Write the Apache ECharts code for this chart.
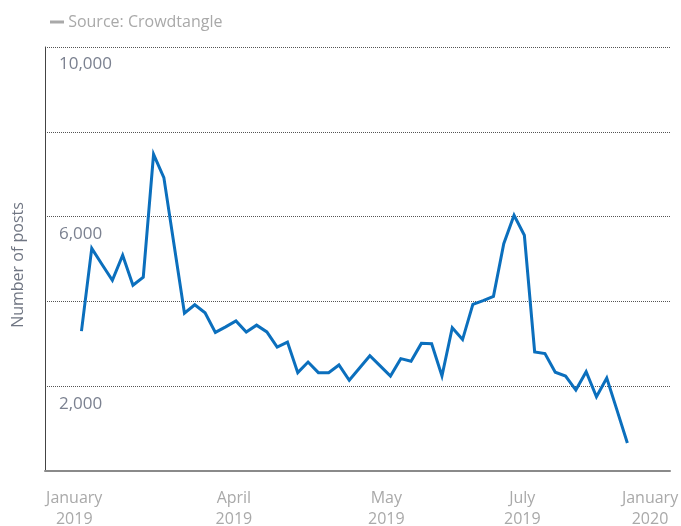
<!DOCTYPE html>
<html>
<head>
<meta charset="utf-8">
<script src="https://cdn.jsdelivr.net/npm/echarts@6/dist/echarts.min.js"></script>
<style>
  html, body { margin: 0; padding: 0; background: #fff; }
  #chart { width: 681px; height: 526px; }
</style>
</head>
<body>
<div id="chart"></div>
<script>
// weekly number of posts, one entry per week
var weeks = [];
for (var w = 0; w < 54; w++) weeks.push(w);

var posts = [3300, 5250, 4870, 4500, 5090, 4380, 4570, 7470, 6920, 5320,
    3720, 3920, 3730, 3270, 3400, 3540, 3280, 3440, 3280, 2920,
    3040, 2320, 2570, 2320, 2320, 2500, 2140, 2430, 2720, 2480,
    2240, 2650, 2590, 3010, 3000, 2240, 3380, 3100, 3930, 4020,
    4120, 5360, 6030, 5560, 2810, 2770, 2330, 2240, 1910, 2340,
    1750, 2190, 1430, 660];

// x labels (month names) and where they sit along the week axis
var xTickLabels = ['January\n2019', 'April\n2019', 'May\n2019', 'July\n2019', 'January\n2020'];
var xTickPos = [-0.7, 14.8, 29.6, 42.8, 55.2];

var yTickLabels = { 10000: '10,000', 6000: '6,000', 2000: '2,000' };

var option = {
    animation: false,
    textStyle: { fontFamily: 'Open Sans' },
    title: {
        text: '{d|} Source: Crowdtangle',
        left: 45,
        top: 9,
        textStyle: {
            color: '#a9a9a9', fontSize: 16, fontWeight: 'normal', fontFamily: 'Open Sans',
            rich: {
                d: { width: 14, height: 3, backgroundColor: '#a9a9a9', padding: 0 }
            }
        }
    },
    grid: { left: 45, right: 11, top: 47, bottom: 55, outerBoundsMode: 'none' },
    xAxis: {
        type: 'value',
        min: -3.54,
        max: 57.14,
        splitLine: { show: false },
        axisTick: { show: false },
        axisLine: { show: true, onZero: false, lineStyle: { color: '#8a8a8a', width: 2 } },
        axisLabel: {
            customValues: xTickPos,
            formatter: function (v) {
                var i = xTickPos.indexOf(v);
                return i >= 0 ? xTickLabels[i] : '';
            },
            color: '#a9a9a9',
            fontSize: 16,
            lineHeight: 21,
            margin: 17
        }
    },
    yAxis: {
        type: 'value',
        min: 0,
        max: 10000,
        interval: 2000,
        name: 'Number of posts',
        nameLocation: 'middle',
        nameGap: 19,
        nameTextStyle: { color: '#707683', fontSize: 16, padding: [0, 12, 0, 0] },
        axisLine: { show: true, onZero: false, lineStyle: { color: '#444', width: 1 } },
        axisTick: { show: false },
        splitLine: { show: true, lineStyle: { color: '#555', type: 'dotted', width: 1 } },
        axisLabel: {
            inside: true,
            margin: 14,
            verticalAlign: 'top',
            padding: [9, 0, 0, 0],
            color: '#7b8190',
            fontSize: 17,
            formatter: function (v) { return yTickLabels[v] || ''; }
        }
    },
    series: [
        {
            type: 'line',
            data: weeks.map(function (w, i) { return [w, posts[i]]; }),
            showSymbol: false,
            lineStyle: { color: '#0b6fbd', width: 3, join: 'miter' },
            itemStyle: { color: '#0b6fbd' }
        }
    ]
};

var myChart = echarts.init(document.getElementById('chart'));
myChart.setOption(option, true);
</script>
</body>
</html>
